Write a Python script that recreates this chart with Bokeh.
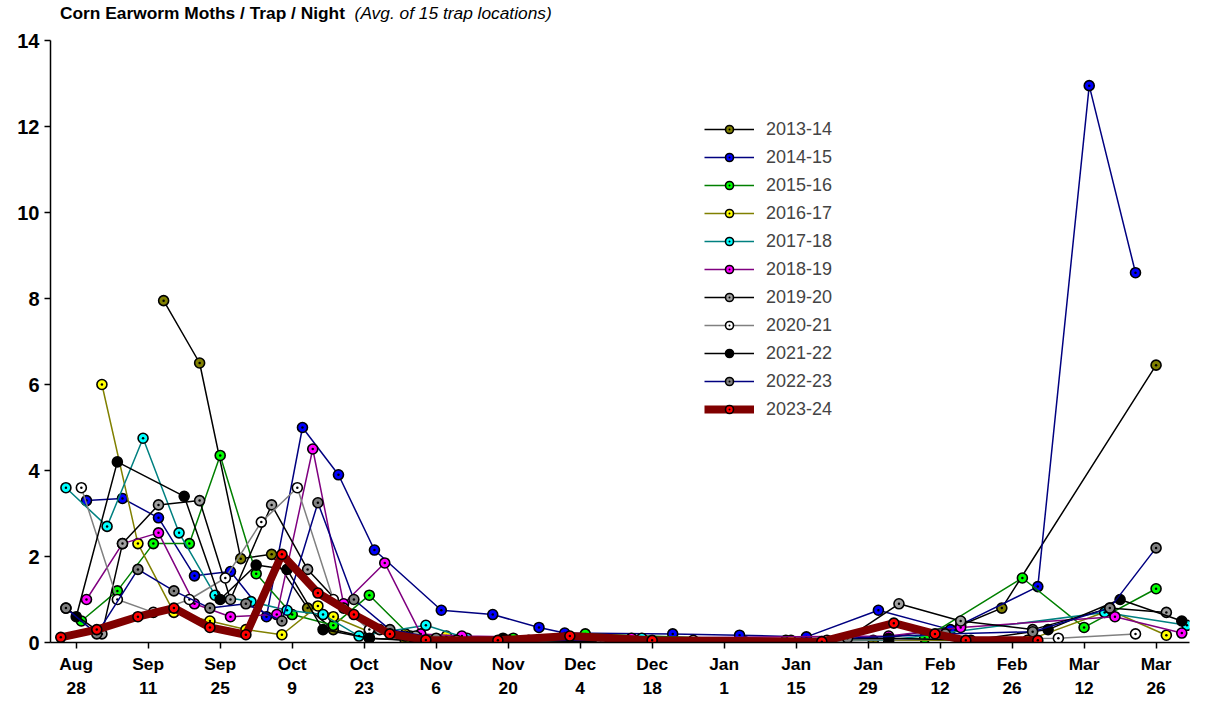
from bokeh.plotting import figure
from bokeh.models import FixedTicker, Legend, LegendItem, Div
from bokeh.layouts import column
from bokeh.embed import file_html
from bokeh.resources import INLINE

# x = days after Aug 28
tick_days = [0, 14, 28, 42, 56, 70, 84, 98, 112, 126, 140, 154, 168, 182, 196, 210]
tick_labels = ["Aug\n28", "Sep\n11", "Sep\n25", "Oct\n9", "Oct\n23", "Nov\n6", "Nov\n20", "Dec\n4",
               "Dec\n18", "Jan\n1", "Jan\n15", "Jan\n29", "Feb\n12", "Feb\n26", "Mar\n12", "Mar\n26"]

s1314_x = [17, 24, 32, 38, 45, 50, 57, 64, 100, 130, 155, 172, 180, 210]
s1314_y = [7.95, 6.5, 1.95, 2.05, 0.8, 0.3, 0.1, 0.05, 0.03, 0.02, 0.05, 0.4, 0.8, 6.45]
s1415_x = [2, 9, 16, 23, 30, 37, 44, 51, 58, 71, 81, 90, 95, 116, 129, 142, 156, 170, 187, 197, 206]
s1415_y = [3.3, 3.35, 2.9, 1.55, 1.65, 0.6, 5.0, 3.9, 2.15, 0.75, 0.65, 0.35, 0.22, 0.2, 0.17, 0.13, 0.75, 0.3, 1.3, 12.95, 8.6]
s1516_x = [1, 8, 15, 22, 28, 35, 42, 50, 57, 65, 85, 99, 138, 165, 184, 196, 210]
s1516_y = [0.5, 1.2, 2.3, 2.3, 4.35, 1.6, 0.65, 0.4, 1.1, 0.15, 0.1, 0.2, 0.05, 0.1, 1.5, 0.35, 1.25]
s1617_x = [5, 12, 19, 26, 33, 40, 47, 50, 57, 64, 72, 104, 139, 185, 201, 212]
s1617_y = [6.0, 2.3, 0.7, 0.5, 0.3, 0.18, 0.85, 0.6, 0.25, 0.2, 0.15, 0.05, 0.05, 0.05, 0.75, 0.17]
s1718_x = [-2, 6, 13, 20, 27, 34, 41, 48, 55, 68, 76, 110, 158, 200, 216]
s1718_y = [3.6, 2.7, 4.75, 2.55, 1.1, 0.95, 0.75, 0.65, 0.15, 0.4, 0.1, 0.1, 0.05, 0.7, 0.4]
s1819_x = [2, 9, 16, 23, 30, 39, 46, 52, 60, 67, 75, 108, 158, 172, 202, 215]
s1819_y = [1.0, 2.3, 2.55, 0.9, 0.6, 0.65, 4.5, 0.9, 1.85, 0.2, 0.15, 0.1, 0.15, 0.35, 0.6, 0.22]
s1920_x = [-2, 5, 9, 16, 24, 30, 38, 45, 52, 59, 66, 88, 106, 150, 160, 172, 186, 201, 212]
s1920_y = [0.8, 0.2, 2.3, 3.2, 3.3, 1.0, 3.2, 1.7, 0.8, 0.3, 0.15, 0.05, 0.03, 0.1, 0.9, 0.5, 0.3, 0.8, 0.7]
s2021_x = [1, 8, 15, 22, 29, 36, 43, 50, 57, 64, 74, 120, 146, 191, 206]
s2021_y = [3.6, 1.0, 0.7, 1.0, 1.5, 2.8, 3.6, 1.0, 0.3, 0.15, 0.05, 0.05, 0.05, 0.1, 0.2]
s2122_x = [0, 8, 21, 28, 35, 41, 48, 57, 66, 83, 98, 158, 174, 189, 203, 215]
s2122_y = [0.6, 4.2, 3.4, 1.0, 1.8, 1.7, 0.3, 0.1, 0.05, 0.1, 0.02, 0.1, 0.05, 0.3, 1.0, 0.5]
s2223_x = [-2, 4, 12, 19, 26, 33, 40, 47, 54, 61, 70, 84, 102, 150, 169, 186, 201, 210]
s2223_y = [0.8, 0.2, 1.7, 1.2, 0.8, 0.9, 0.5, 3.25, 1.0, 0.3, 0.1, 0.05, 0.05, 0.1, 0.2, 0.25, 0.8, 2.2]
s2324_x = [-3, 4, 12, 19, 26, 33, 40, 47, 54, 61, 68, 82, 96, 112, 145, 159, 167, 173, 187]
s2324_y = [0.12, 0.3, 0.6, 0.8, 0.35, 0.18, 2.05, 1.15, 0.65, 0.2, 0.06, 0.05, 0.15, 0.05, 0.02, 0.45, 0.2, 0.05, 0.05]

series = [
    ("2013-14", s1314_x, s1314_y, "black", "olive"),
    ("2014-15", s1415_x, s1415_y, "navy", "blue"),
    ("2015-16", s1516_x, s1516_y, "green", "lime"),
    ("2016-17", s1617_x, s1617_y, "olive", "yellow"),
    ("2017-18", s1718_x, s1718_y, "teal", "cyan"),
    ("2018-19", s1819_x, s1819_y, "purple", "magenta"),
    ("2019-20", s1920_x, s1920_y, "black", "#a0a0a0"),
    ("2020-21", s2021_x, s2021_y, "gray", "white"),
    ("2021-22", s2122_x, s2122_y, "black", "black"),
    ("2022-23", s2223_x, s2223_y, "navy", "gray"),
    ("2023-24", s2324_x, s2324_y, "#800000", "red"),
]

p = figure(width=1194, height=674, output_backend="svg", toolbar_location=None,
           x_range=(-5, 216.5), y_range=(0, 14), min_border_top=14, min_border_left=50,
           min_border_right=5, min_border_bottom=10)
p.outline_line_color = None
p.grid.grid_line_color = None

items = []
for name, xs, ys, lc, fc in series:
    lw = 8 if name == "2023-24" else 1.5
    r1 = p.line(xs, ys, line_color=lc, line_width=lw)
    r2 = p.scatter(xs, ys, marker="circle_dot", size=10, fill_color=fc, line_color="black", line_width=1.6)
    items.append(LegendItem(label=name, renderers=[r1, r2]))

legend = Legend(items=items, location=(654, 222), background_fill_alpha=0, border_line_color=None,
                label_text_font="Liberation Sans", label_text_font_size="13.5pt",
                glyph_width=50, spacing=6, label_height=22, label_standoff=12)
p.add_layout(legend, "center")

p.xaxis.ticker = FixedTicker(ticks=tick_days)
p.xaxis.major_label_overrides = {d: l for d, l in zip(tick_days, tick_labels)}
p.yaxis.ticker = FixedTicker(ticks=[0, 2, 4, 6, 8, 10, 12, 14])
p.xaxis.minor_tick_line_color = None
p.yaxis.minor_tick_line_color = None
for ax in (p.xaxis, p.yaxis):
    ax.axis_line_color = "black"
    ax.axis_line_width = 1.5
    ax.major_tick_line_color = "black"
    ax.major_tick_line_width = 1.5
    ax.major_tick_out = 6
    ax.major_tick_in = 0
    ax.major_label_text_font = "Liberation Sans"
    ax.major_label_text_font_style = "bold"
    ax.major_label_text_color = "black"
p.xaxis.major_label_text_font_size = "13pt"
p.yaxis.major_label_text_font_size = "15pt"

title = Div(text='<span style="font-family:\'Liberation Sans\';font-size:13pt;line-height:16px;">'
                 '<b>Corn Earworm Moths / Trap / Night</b>&nbsp;&nbsp;<i>(Avg. of 15 trap locations)</i></span>',
            width=900, height=16, styles={"margin-left": "60px"})

open("out.html", "w").write(file_html(column(title, p, spacing=0), INLINE))
